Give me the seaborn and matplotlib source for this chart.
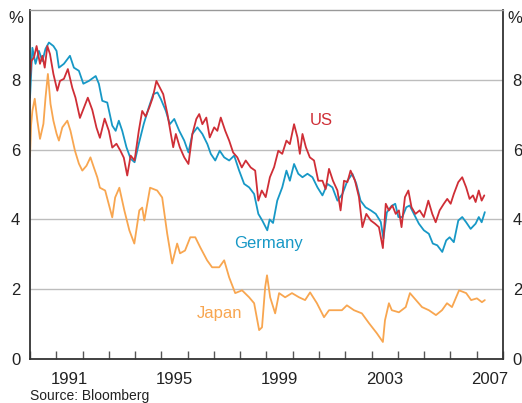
import pandas as pd
import matplotlib
matplotlib.use("Agg")
import matplotlib.pyplot as plt
import seaborn as sns

# Bond yields (year, per cent)
us_years = [1990.0, 1990.05, 1990.15, 1990.25, 1990.38, 1990.47, 1990.56, 1990.66, 1990.76, 1990.89,
            1991.04, 1991.14, 1991.29, 1991.44, 1991.61, 1991.73, 1991.9, 1992.05, 1992.2, 1992.37,
            1992.53, 1992.66, 1992.84, 1993.0, 1993.13, 1993.29, 1993.44, 1993.57, 1993.7, 1993.83,
            1993.98, 1994.14, 1994.27, 1994.4, 1994.54, 1994.67, 1994.81, 1994.94, 1995.07, 1995.23,
            1995.36, 1995.45, 1995.55, 1995.7, 1995.87, 1996.03, 1996.18, 1996.33, 1996.44, 1996.56,
            1996.71, 1996.84, 1997.01, 1997.13, 1997.26, 1997.43, 1997.58, 1997.73, 1997.89, 1998.06,
            1998.21, 1998.4, 1998.57, 1998.69, 1998.82, 1998.97, 1999.13, 1999.29, 1999.45, 1999.6,
            1999.76, 1999.89, 2000.05, 2000.18, 2000.27, 2000.37, 2000.5, 2000.65, 2000.81, 2000.97,
            2001.13, 2001.25, 2001.38, 2001.53, 2001.7, 2001.82, 2001.95, 2002.08, 2002.2, 2002.37,
            2002.52, 2002.65, 2002.8, 2002.97, 2003.13, 2003.28, 2003.43, 2003.54, 2003.66, 2003.79,
            2003.92, 2004.04, 2004.14, 2004.27, 2004.4, 2004.52, 2004.67, 2004.83, 2004.99, 2005.16,
            2005.31, 2005.44, 2005.59, 2005.75, 2005.88, 2006.01, 2006.13, 2006.3, 2006.45, 2006.6,
            2006.73, 2006.86, 2006.96, 2007.08, 2007.19, 2007.29]
us_vals = [8.0, 8.54, 8.64, 8.97, 8.46, 8.69, 8.35, 8.97, 8.74, 8.17,
           7.69, 7.97, 8.03, 8.31, 7.77, 7.49, 6.91, 7.2, 7.49, 7.14,
           6.63, 6.34, 6.89, 6.54, 6.06, 6.17, 5.97, 5.77, 5.26, 5.83,
           5.69, 6.54, 7.11, 6.95, 7.21, 7.49, 7.97, 7.78, 7.59, 7.02,
           6.45, 6.07, 6.45, 6.07, 5.78, 5.59, 6.45, 6.88, 7.02, 6.73,
           6.92, 6.35, 6.64, 6.54, 6.92, 6.54, 6.26, 5.92, 5.78, 5.49,
           5.69, 5.49, 5.4, 4.54, 4.83, 4.64, 5.21, 5.5, 5.97, 5.88,
           6.26, 6.16, 6.73, 6.35, 5.88, 6.45, 6.07, 5.78, 5.69, 5.11,
           5.11, 4.87, 5.45, 5.11, 4.83, 4.26, 5.11, 5.07, 5.4, 5.11,
           4.64, 3.78, 4.16, 3.97, 3.88, 3.78, 3.18, 4.45, 4.26, 4.4,
           4.16, 4.26, 3.78, 4.64, 4.83, 4.35, 4.16, 4.26, 4.07, 4.54,
           4.16, 3.92, 4.26, 4.45, 4.59, 4.45, 4.73, 5.07, 5.21, 4.92,
           4.59, 4.69, 4.5, 4.83, 4.54, 4.69]

de_years = [1990.0, 1990.09, 1990.21, 1990.34, 1990.47, 1990.59, 1990.72, 1990.89, 1991.01, 1991.1,
            1991.29, 1991.52, 1991.67, 1991.86, 1992.03, 1992.24, 1992.5, 1992.62, 1992.75, 1992.94,
            1993.13, 1993.26, 1993.38, 1993.51, 1993.67, 1993.83, 1993.98, 1994.14, 1994.33, 1994.52,
            1994.69, 1994.85, 1994.98, 1995.17, 1995.32, 1995.49, 1995.68, 1995.87, 1996.03, 1996.18,
            1996.37, 1996.56, 1996.75, 1996.88, 1997.05, 1997.22, 1997.39, 1997.58, 1997.77, 1997.96,
            1998.15, 1998.34, 1998.53, 1998.69, 1998.84, 1999.03, 1999.12, 1999.25, 1999.41, 1999.6,
            1999.76, 1999.89, 2000.05, 2000.21, 2000.37, 2000.56, 2000.75, 2000.94, 2001.13, 2001.32,
            2001.51, 2001.7, 2001.89, 2002.08, 2002.27, 2002.42, 2002.58, 2002.77, 2002.97, 2003.16,
            2003.35, 2003.45, 2003.58, 2003.75, 2003.9, 2004.02, 2004.17, 2004.32, 2004.45, 2004.61,
            2004.8, 2004.99, 2005.18, 2005.33, 2005.5, 2005.69, 2005.84, 2005.97, 2006.13, 2006.3,
            2006.45, 2006.6, 2006.77, 2006.96, 2007.08, 2007.19, 2007.31]
de_vals = [7.49, 8.92, 8.46, 8.83, 8.54, 8.89, 9.07, 8.97, 8.83, 8.35,
           8.46, 8.69, 8.35, 8.26, 7.89, 7.97, 8.11, 7.89, 7.4, 7.35,
           6.69, 6.54, 6.83, 6.54, 6.07, 5.74, 5.64, 6.17, 6.74, 7.21,
           7.59, 7.64, 7.45, 7.11, 6.73, 6.88, 6.54, 6.26, 5.92, 6.45,
           6.64, 6.45, 6.16, 5.88, 5.69, 5.97, 5.78, 5.69, 5.83, 5.4,
           5.02, 4.92, 4.73, 4.16, 3.97, 3.69, 4.0, 3.9, 4.54, 4.92,
           5.4, 5.11, 5.59, 5.31, 5.21, 5.31, 5.21, 4.92, 4.69, 5.02,
           4.92, 4.54, 4.73, 5.11, 5.31, 5.02, 4.54, 4.35, 4.26, 4.16,
           3.93, 3.45, 4.2, 4.38, 4.45, 4.07, 4.07, 4.35, 4.4, 4.16,
           3.88, 3.69, 3.59, 3.31, 3.26, 3.07, 3.4, 3.49, 3.35, 3.97,
           4.07, 3.92, 3.73, 3.88, 4.07, 3.92, 4.21]

jp_years = [1990.0, 1990.04, 1990.09, 1990.18, 1990.28, 1990.38, 1990.51, 1990.59, 1990.68, 1990.78,
            1990.89, 1991.01, 1991.1, 1991.23, 1991.42, 1991.54, 1991.71, 1991.86, 1991.99, 1992.15,
            1992.3, 1992.43, 1992.56, 1992.66, 1992.86, 1993.13, 1993.24, 1993.4, 1993.59, 1993.78,
            1993.97, 1994.16, 1994.27, 1994.35, 1994.57, 1994.84, 1995.03, 1995.22, 1995.41, 1995.6,
            1995.71, 1995.9, 1996.1, 1996.29, 1996.48, 1996.74, 1996.93, 1997.2, 1997.39, 1997.58,
            1997.81, 1998.07, 1998.34, 1998.53, 1998.72, 1998.83, 1998.95, 1999.02, 1999.14, 1999.33,
            1999.48, 1999.71, 1999.97, 2000.24, 2000.47, 2000.66, 2000.92, 2001.19, 2001.38, 2001.61,
            2001.87, 2002.06, 2002.33, 2002.63, 2002.9, 2003.2, 2003.43, 2003.51, 2003.66, 2003.77,
            2004.04, 2004.3, 2004.46, 2004.69, 2004.92, 2005.18, 2005.45, 2005.68, 2005.87, 2006.06,
            2006.33, 2006.6, 2006.79, 2007.01, 2007.2, 2007.31]
jp_vals = [5.8, 6.7, 7.11, 7.46, 6.83, 6.31, 6.74, 7.49, 8.17, 7.31,
           6.83, 6.46, 6.26, 6.64, 6.83, 6.54, 5.97, 5.6, 5.4, 5.54,
           5.78, 5.49, 5.21, 4.91, 4.83, 4.06, 4.63, 4.91, 4.26, 3.69,
           3.31, 4.26, 4.34, 3.97, 4.91, 4.83, 4.63, 3.6, 2.74, 3.31,
           3.03, 3.11, 3.49, 3.49, 3.2, 2.83, 2.63, 2.63, 2.83, 2.34,
           1.89, 1.97, 1.77, 1.6, 0.83, 0.91, 2.06, 2.4, 1.77, 1.31,
           1.89, 1.77, 1.89, 1.77, 1.69, 1.91, 1.6, 1.2, 1.4, 1.4,
           1.4, 1.54, 1.4, 1.31, 1.03, 0.74, 0.49, 1.11, 1.6, 1.4,
           1.34, 1.49, 1.89, 1.69, 1.49, 1.4, 1.26, 1.4, 1.6, 1.49,
           1.97, 1.89, 1.69, 1.74, 1.63, 1.69]

year_labels = ['1991', '1995', '1999', '2003', '2007']

colours = {'US': '#cf2e36', 'Germany': '#1798c6', 'Japan': '#f8a650'}

df = pd.concat([
    pd.DataFrame({'year': us_years, 'yield': us_vals, 'series': 'US'}),
    pd.DataFrame({'year': de_years, 'yield': de_vals, 'series': 'Germany'}),
    pd.DataFrame({'year': jp_years, 'yield': jp_vals, 'series': 'Japan'}),
])

sns.set_theme(style="white")
plt.rcParams['font.family'] = ['Liberation Sans', 'DejaVu Sans']

fig = plt.figure(figsize=(5.22, 4.03), dpi=100)
ax = fig.add_axes([0.0575, 0.109, 0.906, 0.866])

sns.lineplot(data=df, x='year', y='yield', hue='series', palette=colours,
             hue_order=['Japan', 'Germany', 'US'],
             estimator=None, sort=False, linewidth=1.3, legend=False, ax=ax)

ax.set_xlim(1990, 2008)
ax.set_ylim(0, 10)
ax.set_xlabel('')
ax.set_ylabel('')

ax.set_xticks([int(y) + 0.5 for y in year_labels])
ax.set_xticklabels(year_labels)
ax.set_xticks(range(1990, 2009), minor=True)
ax.tick_params(axis='x', which='major', length=0, pad=9, labelsize=12, colors='#222222')
ax.tick_params(axis='x', which='minor', direction='in', length=6, width=1, color='#555555',
               bottom=True)

ax.set_yticks([0, 2, 4, 6, 8])
ax.tick_params(axis='y', length=0, pad=7, labelsize=12, labelleft=True, labelright=True,
               colors='#222222')
ax.yaxis.grid(True, color='#bdbdbd', linewidth=1)
ax.set_axisbelow(True)

for side in ['left', 'right', 'bottom']:
    ax.spines[side].set_color('#333333')
    ax.spines[side].set_linewidth(1.3)
ax.spines['top'].set_color('#999999')
ax.spines['top'].set_linewidth(1)

# series labels
ax.text(2001.1, 6.83, 'US', color=colours['US'], fontsize=12, ha='center', va='center')
ax.text(1999.06, 3.31, 'Germany', color=colours['Germany'], fontsize=12, ha='center', va='center')
ax.text(1997.2, 1.31, 'Japan', color=colours['Japan'], fontsize=12, ha='center', va='center')

fig.text(23 / 522, 1 - 18.5 / 403, '%', fontsize=12, ha='right', va='center', color='#222222')
fig.text(507 / 522, 1 - 18.5 / 403, '%', fontsize=12, ha='left', va='center', color='#222222')
fig.text(30 / 522, 1 - 396 / 403, 'Source: Bloomberg', fontsize=10, ha='left', va='center',
         color='#222222')

fig.savefig('out.png', dpi=100)
plt.close(fig)
